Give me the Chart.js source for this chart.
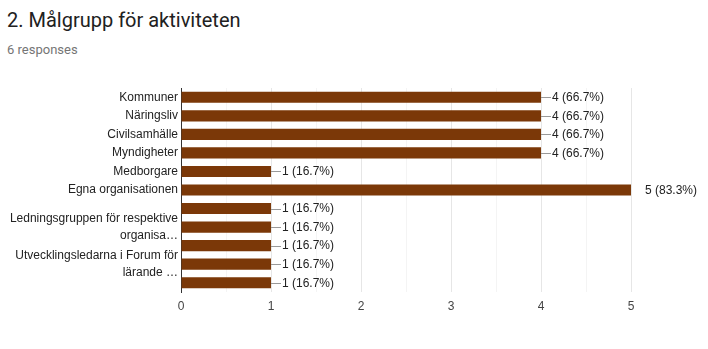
<!DOCTYPE html>
<html lang="sv">
<head>
    <meta charset="UTF-8">
    <title>Målgrupp för aktiviteten</title>
    <script src="https://cdn.jsdelivr.net/npm/chart.js"></script>
    <style>
        body {
            margin: 0;
            background: #fff;
            width: 708px;
            height: 349px;
            overflow: hidden;
            position: relative;
        }
        .title {
            position: absolute;
            left: 7px;
            top: 10px;
            font-family: Roboto, sans-serif;
            font-size: 20px;
            line-height: 20px;
            color: #212121;
            white-space: nowrap;
        }
        .sub {
            position: absolute;
            left: 7px;
            top: 43px;
            font-family: Roboto, sans-serif;
            font-size: 13px;
            line-height: 13px;
            color: #757575;
        }
        #wrap {
            position: absolute;
            left: 0;
            top: 0;
            width: 708px;
            height: 349px;
        }
    </style>
</head>
<body>
    <div class="title">2. Målgrupp för aktiviteten</div>
    <div class="sub">6 responses</div>
    <div id="wrap"><canvas id="chart"></canvas></div>

    <script>
        // Data (labels that the original skipped are left blank)
        const categories = [
            "Kommuner",
            "Näringsliv",
            "Civilsamhälle",
            "Myndigheter",
            "Medborgare",
            "Egna organisationen",
            "",
            ["Ledningsgruppen för respektive", "organisa…"],
            "",
            ["Utvecklingsledarna i Forum för", "lärande …"],
            ""
        ];
        const counts = [4, 4, 4, 4, 1, 5, 1, 1, 1, 1, 1];
        const totalResponses = 6;
        const xTicks = [0, 1, 2, 3, 4, 5];

        const barColor = "#7b3808";
        const labelFont = "'Liberation Sans', Arial, sans-serif";

        // value labels with the little leader line, like Google Forms
        const valueLabels = {
            id: "valueLabels",
            afterDatasetsDraw(chart) {
                const ctx = chart.ctx;
                const meta = chart.getDatasetMeta(0);
                ctx.save();
                ctx.font = "12px " + labelFont;
                ctx.textBaseline = "middle";
                meta.data.forEach((bar, i) => {
                    const v = counts[i];
                    const pct = (v / totalResponses * 100).toFixed(1);
                    const txt = v + " (" + pct + "%)";
                    let x = bar.x;
                    if (x >= chart.chartArea.right - 1) {
                        x += 14;
                    } else {
                        ctx.strokeStyle = "#999";
                        ctx.lineWidth = 1;
                        ctx.beginPath();
                        ctx.moveTo(x, Math.round(bar.y) + 0.5);
                        ctx.lineTo(x + 10, Math.round(bar.y) + 0.5);
                        ctx.stroke();
                        x += 11;
                    }
                    ctx.fillStyle = "#222";
                    ctx.fillText(txt, x, bar.y + 0.5);
                });
                ctx.restore();
            }
        };

        new Chart(document.getElementById("chart"), {
            type: "bar",
            data: {
                labels: categories,
                datasets: [{
                    data: counts,
                    backgroundColor: barColor,
                    barPercentage: 0.6,
                    categoryPercentage: 1
                }]
            },
            options: {
                indexAxis: "y",
                responsive: true,
                maintainAspectRatio: false,
                animation: false,
                layout: { padding: { top: 88, right: 77, bottom: 0, left: 0 } },
                plugins: {
                    legend: { display: false },
                    tooltip: { enabled: false }
                },
                scales: {
                    x: {
                        min: xTicks[0],
                        max: xTicks[xTicks.length - 1],
                        afterFit(scale) { scale.height = 57; },
                        border: { display: false },
                        grid: {
                            drawTicks: false,
                            color: c => (c.tick && Number.isInteger(c.tick.value)) ? "#e6e6e6" : "#f4f4f4"
                        },
                        ticks: {
                            stepSize: 0.5,
                            padding: 7,
                            color: "#444",
                            font: { family: labelFont, size: 12 },
                            callback: v => xTicks.includes(v) ? String(v) : ""
                        }
                    },
                    y: {
                        afterFit(scale) { scale.width = 181; },
                        border: { display: true, color: "#333", width: 1 },
                        grid: { display: false, drawTicks: false },
                        ticks: {
                            autoSkip: false,
                            padding: 3,
                            color: "#222",
                            font: { family: labelFont, size: 12, lineHeight: 1.4 }
                        }
                    }
                }
            },
            plugins: [valueLabels]
        });
    </script>
</body>
</html>
